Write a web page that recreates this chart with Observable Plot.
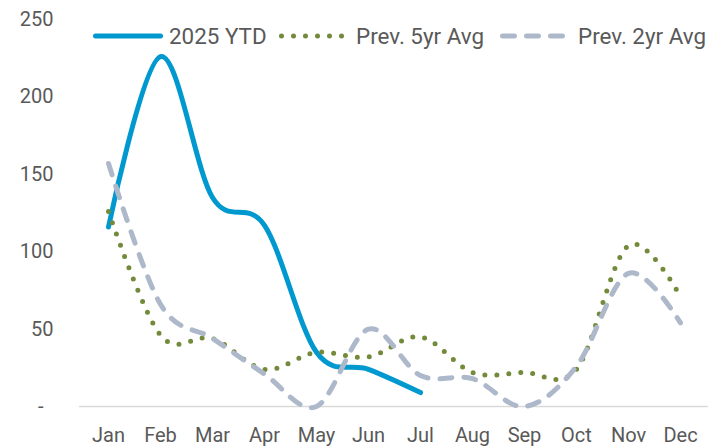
<!DOCTYPE html>
<html>
<head>
<meta charset="utf-8">
<script src="https://cdn.jsdelivr.net/npm/d3@7"></script>
<script src="https://cdn.jsdelivr.net/npm/@observablehq/plot@0.6"></script>
<style>
  html, body { margin: 0; padding: 0; background: #fff; }
  #wrap { position: relative; width: 710px; height: 446px; font-family: Roboto, sans-serif; color: #595959; }
  .lg { position: absolute; top: 23px; height: 26px; display: flex; align-items: center; font-size: 22.4px; white-space: nowrap; }
  .lg svg { display: block; }
</style>
</head>
<body>
<div id="wrap"></div>
<script>
const months = ["Jan","Feb","Mar","Apr","May","Jun","Jul","Aug","Sep","Oct","Nov","Dec"];
const ytd2025 = [116, 226, 135, 117, 35, 24, 9];
const prev5yr = [126, 46, 44, 24, 35, 32, 45, 22, 22, 24, 104, 71];
const prev2yr = [157, 66, 44, 21, 0, 50, 20, 18, 0, 26, 86, 54];
const yTicks = [50, 100, 150, 200, 250];
const seriesNames = ["2025 YTD", "Prev. 5yr Avg", "Prev. 2yr Avg"];
const colors = ["#0099CF", "#738A3A", "#ADB9CA"];

const toRows = vals => vals.map((v, i) => ({month: months[i], value: v}));

const chart = Plot.plot({
  width: 710,
  height: 446,
  marginLeft: 79,
  marginRight: 2,
  marginTop: 19,
  marginBottom: 40,
  style: {fontFamily: "Roboto, sans-serif", fontSize: "20px", color: "#595959", background: "#fff"},
  x: {type: "point", domain: months, padding: 0.5, label: null},
  y: {domain: [0, 250], label: null},
  marks: [
    Plot.ruleY([0], {stroke: "#D9D9D9", strokeWidth: 1.5}),
    Plot.axisY({ticks: yTicks, tickSize: 0, tickPadding: 26, label: null}),
    Plot.axisY({ticks: [0], tickSize: 0, tickPadding: 36, tickFormat: () => "-", label: null}),
    Plot.axisX({tickSize: 0, tickPadding: 21, label: null}),
    Plot.line(toRows(ytd2025), {x: "month", y: "value", curve: "cardinal", tension: 0,
      stroke: colors[0], strokeWidth: 5, strokeLinecap: "round"}),
    Plot.line(toRows(prev5yr), {x: "month", y: "value", curve: "cardinal", tension: 0,
      stroke: colors[1], strokeWidth: 5, strokeDasharray: "0 12", strokeLinecap: "round"}),
    Plot.line(toRows(prev2yr), {x: "month", y: "value", curve: "cardinal", tension: 0,
      stroke: colors[2], strokeWidth: 5, strokeDasharray: "12 12", strokeLinecap: "round"})
  ]
});

const wrap = document.getElementById("wrap");
wrap.appendChild(chart);

// Legend overlay (inside plot area, top)
const legendItems = [
  {name: seriesNames[0], color: colors[0], dash: null, swatchX: 93, textX: 169},
  {name: seriesNames[1], color: colors[1], dash: "0 12", swatchX: 279, textX: 356},
  {name: seriesNames[2], color: colors[2], dash: "12 12", swatchX: 500, textX: 578}
];
for (const it of legendItems) {
  const sw = document.createElement("div");
  sw.className = "lg";
  sw.style.left = it.swatchX + "px";
  sw.innerHTML = `<svg width="70" height="12"><line x1="2.5" y1="6" x2="${it.dash === "0 12" ? 63 : 67.5}" y2="6" stroke="${it.color}" stroke-width="5" stroke-linecap="round" ${it.dash ? `stroke-dasharray="${it.dash}"` : ""}/></svg>`;
  wrap.appendChild(sw);
  const tx = document.createElement("div");
  tx.className = "lg";
  tx.style.left = it.textX + "px";
  tx.textContent = it.name;
  wrap.appendChild(tx);
}
</script>
</body>
</html>
